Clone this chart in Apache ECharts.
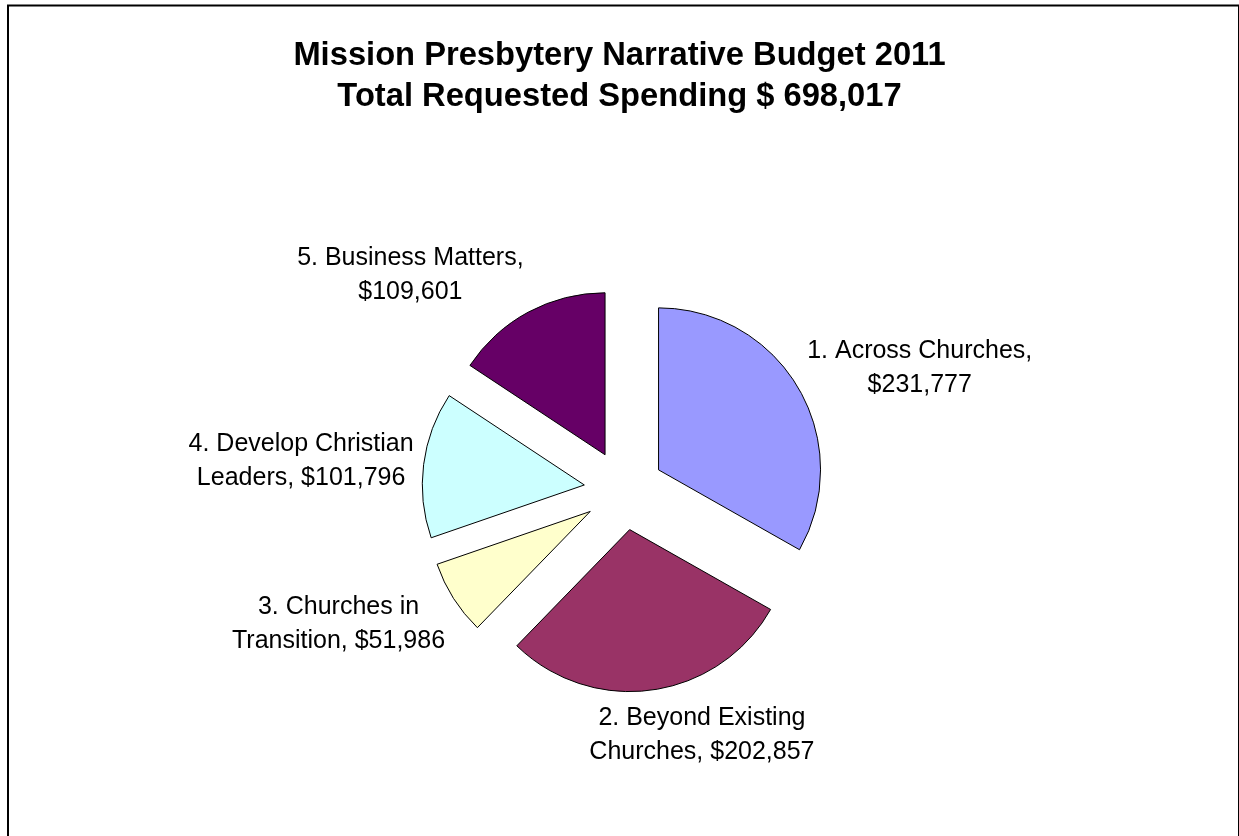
<!DOCTYPE html>
<html lang="en">
<head>
<meta charset="UTF-8">
<title>Mission Presbytery Narrative Budget 2011</title>
<script src="https://cdn.jsdelivr.net/npm/echarts@6/dist/echarts.min.js"></script>
<style>
    html, body { margin: 0; padding: 0; background: #fff; }
    #Chart1 { width: 1239px; height: 836px; }
</style>
</head>
<body>
<div id="Chart1"></div>
<script>
// data
var categories = ['1. Across Churches', '2. Beyond Existing Churches', '3. Churches in Transition', '4. Develop Christian Leaders', '5. Business Matters'];
var labelTexts = ['1. Across Churches,\n$231,777', '2. Beyond Existing\nChurches, $202,857', '3. Churches in\nTransition, $51,986', '4. Develop Christian\nLeaders, $101,796', '5. Business Matters,\n$109,601'];
var amounts = [231777, 202857, 51986, 101796, 109601];
var sliceColors = ['#9999FF', '#993366', '#FFFFCC', '#CCFFFF', '#660066'];

var cx = 624, cy = 490, radius = 162, explode = 40, labelGap = 10;
var labelFont = 'Liberation Sans, Arial, sans-serif', labelSize = 25, labelLineH = 34;

var total = amounts.reduce(function (a, b) { return a + b; }, 0);
// mid angle of each slice, clockwise from 12 o'clock
var midAngles = [];
var acc = 0;
for (var i = 0; i < amounts.length; i++) {
    var a0 = acc / total * Math.PI * 2;
    acc += amounts[i];
    var a1 = acc / total * Math.PI * 2;
    midAngles.push((a0 + a1) / 2);
}

// measure label boxes
var ctx = document.createElement('canvas').getContext('2d');
ctx.font = labelSize + 'px ' + labelFont;
function textBox(txt) {
    var lines = txt.split('\n');
    var w = 0;
    lines.forEach(function (l) { w = Math.max(w, ctx.measureText(l).width); });
    return { w: w, h: lines.length * labelLineH };
}

var data = [];
for (var i = 0; i < categories.length; i++) {
    data.push({
        name: categories[i],
        value: amounts[i],
        selected: true,
        itemStyle: { color: sliceColors[i] },
        select: { itemStyle: { color: sliceColors[i], borderColor: '#000', borderWidth: 1 } }
    });
}

// excel style "outside end" data labels, placed off each slice's mid angle
var labelGraphics = [];
for (var i = 0; i < labelTexts.length; i++) {
    var dx = Math.sin(midAngles[i]), dy = -Math.cos(midAngles[i]);
    var dist = explode + radius + labelGap;
    var box = textBox(labelTexts[i]);
    var kx = Math.max(-1, Math.min(1, dx * 3));
    labelGraphics.push({
        type: 'text',
        x: cx + dist * dx + kx * box.w / 2,
        y: cy + dist * dy + dy * box.h / 2 + 2,
        silent: true,
        style: {
            text: labelTexts[i],
            fill: '#000',
            font: labelSize + 'px ' + labelFont,
            lineHeight: labelLineH,
            align: 'center',
            verticalAlign: 'middle'
        }
    });
}

var myChart1 = echarts.init(document.getElementById('Chart1'));
var option = {
    backgroundColor: '#ffffff',
    animation: false,
    title: {
        text: 'Mission Presbytery Narrative Budget 2011\nTotal Requested Spending $ 698,017',
        left: 'center',
        top: 35,
        padding: 0,
        textStyle: {
            fontFamily: 'Liberation Sans, Arial, sans-serif',
            fontWeight: 'bold',
            fontSize: 32.7,
            lineHeight: 41,
            color: '#000'
        }
    },
    graphic: [{
        type: 'rect',
        shape: { x: 8, y: 5.5, width: 1231, height: 1000 },
        style: { fill: 'none', stroke: '#000', lineWidth: 2 },
        silent: true
    }].concat(labelGraphics),
    series: [{
        type: 'pie',
        center: [cx, cy],
        radius: radius,
        startAngle: 90,
        clockwise: true,
        selectedMode: 'multiple',
        selectedOffset: explode,
        emphasis: { disabled: true },
        itemStyle: { borderColor: '#000', borderWidth: 1 },
        label: { show: false },
        labelLine: { show: false },
        data: data
    }]
};
myChart1.setOption(option);
</script>
</body>
</html>
